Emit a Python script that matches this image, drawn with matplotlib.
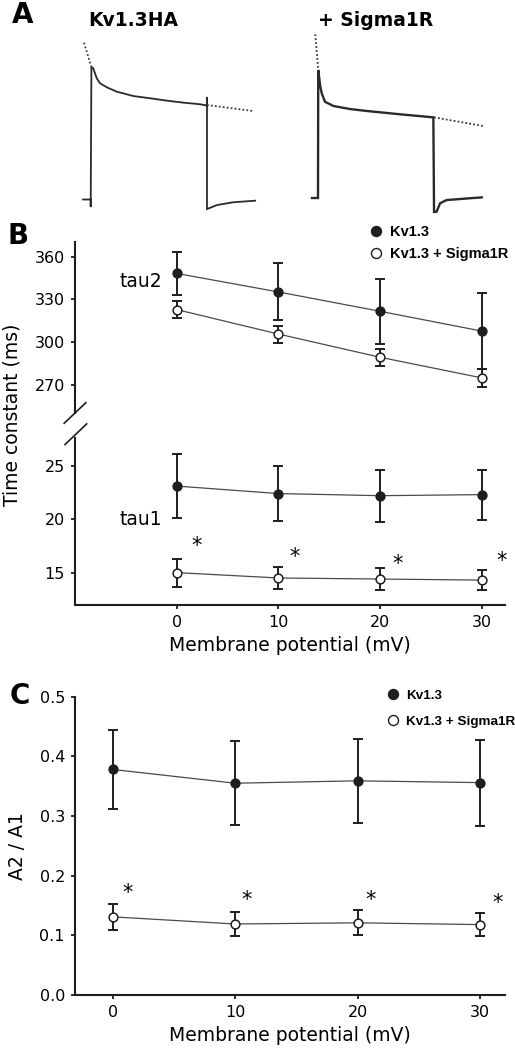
import matplotlib
matplotlib.use('Agg')
import matplotlib.pyplot as plt
from matplotlib.lines import Line2D

# ---- data ----
# panel A: current traces (time in ms from pulse onset, normalised current)
kv_trace_t = [-33, 0, 0, 3, 11, 26, 40, 69, 112, 183, 255, 327, 398, 470, 500, 500, 500, 543, 612, 707]
kv_trace_i = [0, 0, -0.057, 1.0, 0.99, 0.915, 0.877, 0.847, 0.814, 0.781, 0.764, 0.746, 0.731, 0.719,
              0.709, 0.774, -0.072, -0.042, -0.021, -0.009]
kv_fit_pre_t = [-29, 3]
kv_fit_pre_i = [1.183, 1.0]
kv_fit_post_t = [500, 698]
kv_fit_post_i = [0.713, 0.668]

sig_trace_t = [-26, 0, 1, 9, 16, 30, 66, 138, 209, 353, 496, 499, 510, 525, 553, 704]
sig_trace_i = [0, 0, 1.0, 0.883, 0.818, 0.752, 0.719, 0.695, 0.680, 0.654, 0.630, -0.109, -0.107,
               -0.041, -0.016, 0.005]
sig_fit_pre_t = [-13, 1]
sig_fit_pre_i = [1.31, 1.0]
sig_fit_post_t = [499, 710]
sig_fit_post_i = [0.630, 0.5625]

# panels B and C
potential = [0, 10, 20, 30]

tau2_kv = [348.3, 335.3, 321.7, 307.8]
tau2_kv_sem = [15, 20, 23, 27]
tau2_sig = [322.9, 305.7, 289.4, 274.9]
tau2_sig_sem = [6, 6, 6, 6.5]

tau1_kv = [23.1, 22.4, 22.2, 22.3]
tau1_kv_sem = [3.0, 2.55, 2.45, 2.35]
tau1_sig = [15.0, 14.5, 14.4, 14.3]
tau1_sig_sem = [1.3, 1.05, 1.0, 0.95]
tau1_star_x = [2.0, 11.6, 21.7, 32.0]
tau1_star_y = [18.0, 17.0, 16.3, 16.6]

ratio_kv = [0.378, 0.355, 0.359, 0.356]
ratio_kv_sem = [0.067, 0.070, 0.070, 0.072]
ratio_sig = [0.131, 0.119, 0.121, 0.118]
ratio_sig_sem = [0.022, 0.020, 0.021, 0.019]
ratio_star_x = [1.2, 10.95, 21.1, 31.4]
ratio_star_y = [0.181, 0.168, 0.168, 0.164]

legend_labels = ['Kv1.3', 'Kv1.3 + Sigma1R']

# ---- style ----
W, H = 515, 1050
INK = '#1e1e1e'
LINE = '#4a4a4a'
TICK_FS = 11.5
LABEL_FS = 13.5


def fx(px):
    return px / W


def fy(py):
    return 1 - py / H


def style_axis(ax):
    for s in ['top', 'right']:
        ax.spines[s].set_visible(False)
    for s in ['left', 'bottom']:
        ax.spines[s].set_linewidth(1.5)
        ax.spines[s].set_color(INK)
    ax.tick_params(width=1.3, length=3.1, pad=4.1, labelsize=TICK_FS, color=INK)


def draw_series(ax, x, mean, sem, filled):
    ax.plot(x, mean, color=LINE, lw=0.9, zorder=2)
    ax.errorbar(x, mean, yerr=sem, fmt='none', ecolor=INK, elinewidth=1.4,
                capsize=3.6, capthick=1.4, zorder=3)
    ax.plot(x, mean, 'o', ms=6.3, mfc=INK if filled else 'white', mec=INK,
            mew=1.1, zorder=4, clip_on=False)


def stars(ax, xs, ys):
    for x, y in zip(xs, ys):
        ax.annotate('*', (x, y), xytext=(0, -4), textcoords='offset points',
                    ha='center', va='center', fontsize=15, annotation_clip=False)


def add_legend(ax, x0, y0, size, spacing, pad):
    handles = [Line2D([], [], ls='none', marker='o', ms=7.2, mfc=INK, mec=INK),
               Line2D([], [], ls='none', marker='o', ms=7.2, mfc='white', mec=INK, mew=1.0)]
    ax.legend(handles, legend_labels, loc='upper left', bbox_to_anchor=(fx(x0), fy(y0)),
              bbox_transform=fig.transFigure, frameon=False, borderpad=0, borderaxespad=0,
              handlelength=1.0, handletextpad=pad, labelspacing=spacing,
              prop={'family': 'Liberation Sans', 'weight': 'bold', 'size': size})


fig = plt.figure(figsize=(W / 100, H / 100), dpi=100)

# ---- panel A ----
ax_a1 = fig.add_axes([0.15806, 0.79107, 0.34318, 0.18298])
ax_a2 = fig.add_axes([0.59942, 0.79314, 0.34318, 0.17676])
for ax, tt, ii, pt, pi, qt, qi, lw in [
        (ax_a1, kv_trace_t, kv_trace_i, kv_fit_pre_t, kv_fit_pre_i, kv_fit_post_t, kv_fit_post_i, 1.3),
        (ax_a2, sig_trace_t, sig_trace_i, sig_fit_pre_t, sig_fit_pre_i, sig_fit_post_t, sig_fit_post_i, 1.7)]:
    ax.plot(tt, ii, color='#2a2a2a', lw=lw, solid_joinstyle='miter')
    ax.plot(pt, pi, color='#3a3a3a', lw=1.3, ls=(0, (1, 1.2)))
    ax.plot(qt, qi, color='#3a3a3a', lw=1.3, ls=(0, (1, 1.2)))
    ax.set_xlim(-40, 720)
    ax.set_ylim(-0.15, 1.3)
    ax.axis('off')

fig.text(fx(133), fy(20), 'Kv1.3HA', ha='center', va='center', fontsize=13.5, weight='bold')
fig.text(fx(376), fy(20), '+ Sigma1R', ha='center', va='center', fontsize=13.5, weight='bold')

# ---- panel B ----
ax_hi = fig.add_axes([fx(75), fy(413), 430 / W, 171.3 / H])
ax_lo = fig.add_axes([fx(75), fy(605), 430 / W, 167 / H])

draw_series(ax_hi, potential, tau2_kv, tau2_kv_sem, True)
draw_series(ax_hi, potential, tau2_sig, tau2_sig_sem, False)
draw_series(ax_lo, potential, tau1_kv, tau1_kv_sem, True)
draw_series(ax_lo, potential, tau1_sig, tau1_sig_sem, False)

for ax in (ax_hi, ax_lo):
    style_axis(ax)
    ax.set_xlim(-10, 32.3)
ax_hi.spines['bottom'].set_visible(False)
ax_hi.set_xticks([])
ax_hi.set_ylim(250.2, 370.6)
ax_hi.set_yticks([270, 300, 330, 360])
ax_lo.set_ylim(11.97, 27.6)
ax_lo.set_yticks([15, 20, 25])
ax_lo.set_xticks(potential)
ax_lo.set_xlabel('Membrane potential (mV)', fontsize=LABEL_FS, labelpad=4)

ax_hi.text(-3.5, 342.4, 'tau2', ha='center', va='center', fontsize=LABEL_FS)
ax_lo.text(-3.5, 19.93, 'tau1', ha='center', va='center', fontsize=LABEL_FS)
stars(ax_lo, tau1_star_x, tau1_star_y)

# axis break marks
ax_hi.plot([-0.0252, 0.0252], [-0.060, 0.060], transform=ax_hi.transAxes,
           color=INK, lw=1.2, clip_on=False)
ax_lo.plot([-0.0232, 0.0272], [1.0228 - 0.0617, 1.0228 + 0.0617], transform=ax_lo.transAxes,
           color=INK, lw=1.2, clip_on=False)

fig.text(fx(12), fy(415), 'Time constant (ms)', rotation=90, ha='center', va='center',
         fontsize=LABEL_FS)
add_legend(ax_hi, 368.7, 225.0, 10.5, 0.55, 0.46)

# ---- panel C ----
ax_c = fig.add_axes([fx(75), fy(995), 430 / W, 298.3 / H])
draw_series(ax_c, potential, ratio_kv, ratio_kv_sem, True)
draw_series(ax_c, potential, ratio_sig, ratio_sig_sem, False)
style_axis(ax_c)
ax_c.set_xlim(-3.08, 32.04)
ax_c.set_ylim(0, 0.5)
ax_c.set_xticks(potential)
ax_c.set_yticks([0.0, 0.1, 0.2, 0.3, 0.4, 0.5])
ax_c.set_yticklabels(['0.0', '0.1', '0.2', '0.3', '0.4', '0.5'])
ax_c.set_xlabel('Membrane potential (mV)', fontsize=LABEL_FS, labelpad=4)
stars(ax_c, ratio_star_x, ratio_star_y)
fig.text(fx(17.5), fy(846), 'A2 / A1', rotation=90, ha='center', va='center', fontsize=LABEL_FS)
add_legend(ax_c, 386.25, 689.5, 9.7, 1.0, 0.46)

# panel letters
fig.text(fx(22.5), fy(15), 'A', ha='center', va='center', fontsize=20, weight='bold')
fig.text(fx(18), fy(236), 'B', ha='center', va='center', fontsize=20, weight='bold')
fig.text(fx(20), fy(696), 'C', ha='center', va='center', fontsize=20, weight='bold')

fig.savefig('out.png', dpi=100)
